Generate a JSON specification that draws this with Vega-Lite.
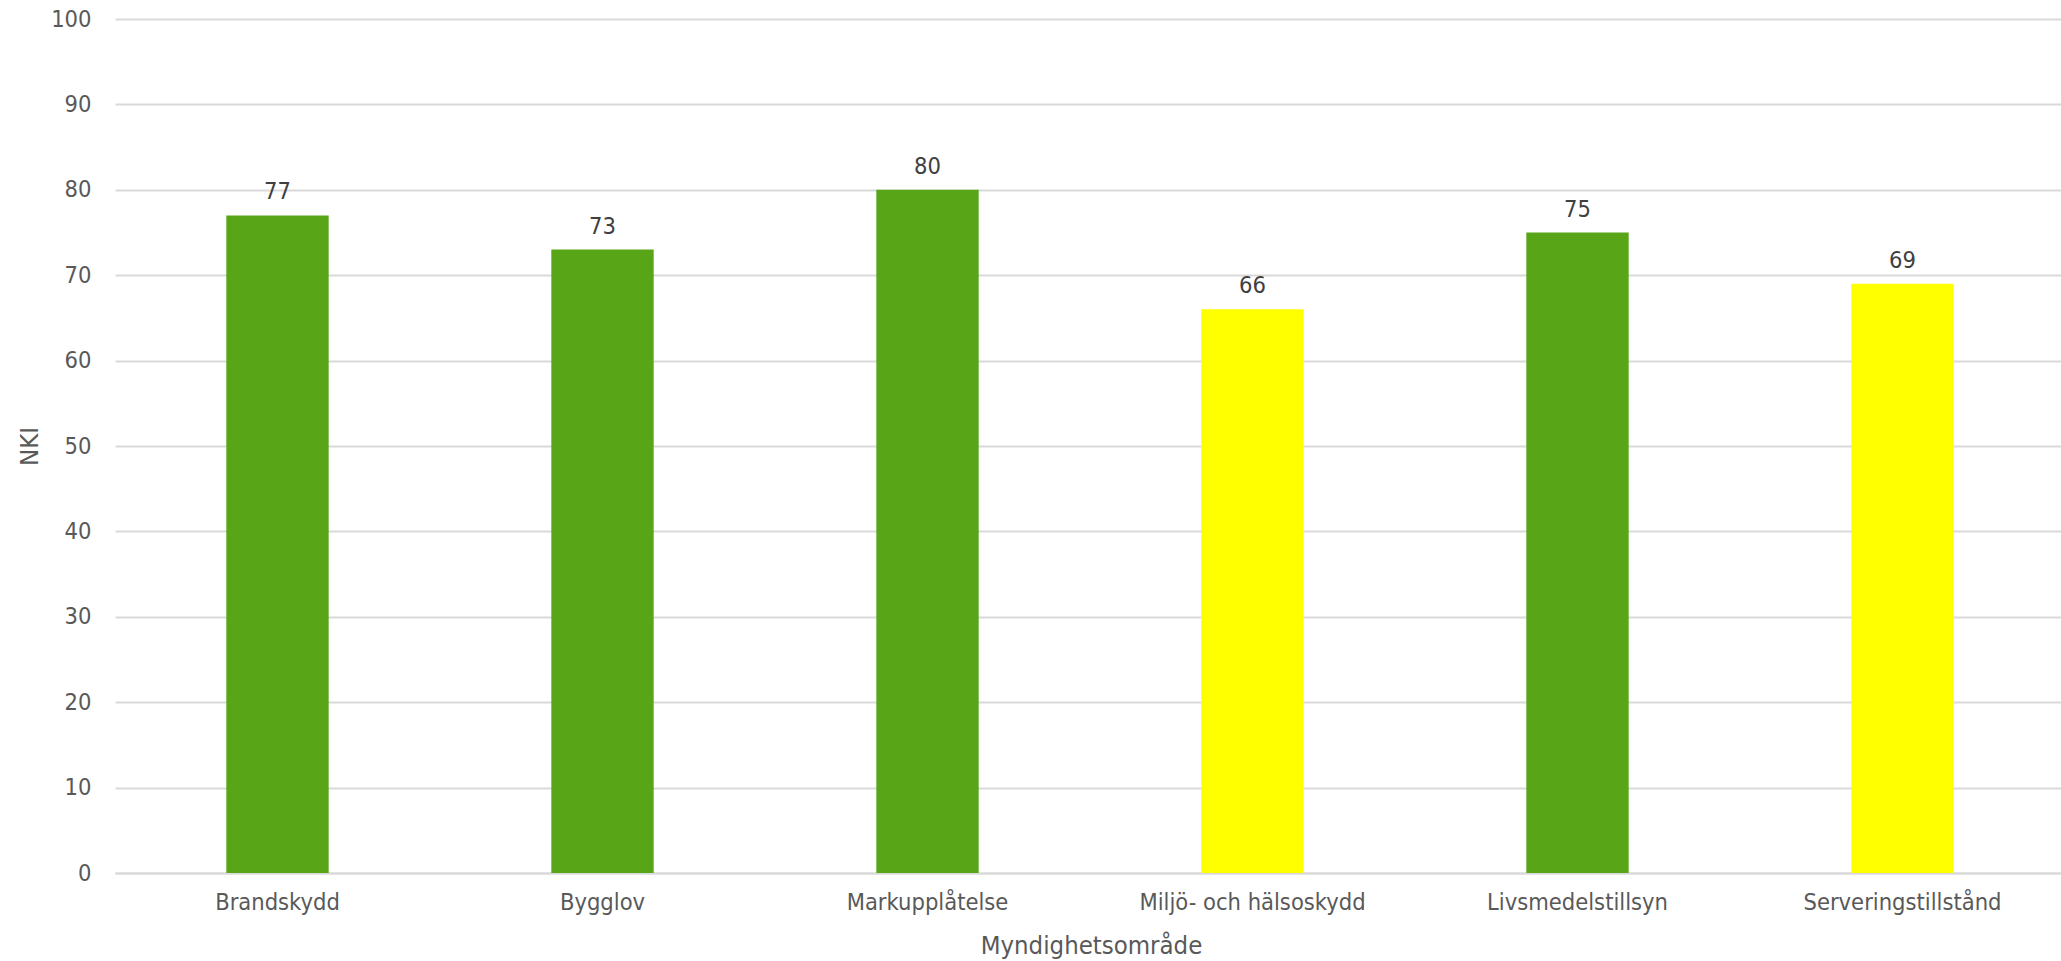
{
  "$schema": "https://vega.github.io/schema/vega-lite/v6.json",
  "autosize": {"type": "none"},
  "width": 1950,
  "height": 854,
  "padding": {"left": 115, "top": 19, "right": 0, "bottom": 88},
  "background": "white",
  "config": {
    "view": {"stroke": null},
    "font": "DejaVu Sans Condensed, DejaVu Sans, sans-serif"
  },
  "data": {
    "values": [
      {"omrade": "Brandskydd", "nki": 77, "niva": "hog"},
      {"omrade": "Bygglov", "nki": 73, "niva": "hog"},
      {"omrade": "Markupplåtelse", "nki": 80, "niva": "hog"},
      {"omrade": "Miljö- och hälsoskydd", "nki": 66, "niva": "mellan"},
      {"omrade": "Livsmedelstillsyn", "nki": 75, "niva": "hog"},
      {"omrade": "Serveringstillstånd", "nki": 69, "niva": "mellan"}
    ]
  },
  "encoding": {
    "x": {
      "field": "omrade",
      "type": "nominal",
      "sort": null,
      "title": "Myndighetsområde",
      "scale": {"paddingInner": 0.685, "paddingOuter": 0.3425},
      "axis": {
        "labelAngle": 0,
        "labelFontSize": 23.5,
        "labelLimit": 0,
        "labelColor": "#595959",
        "labelFont": "DejaVu Sans Condensed, DejaVu Sans, sans-serif",
        "labelPadding": 17,
        "labelBaseline": "top",
        "ticks": false,
        "domain": true,
        "domainColor": "#d9d9d9",
        "domainWidth": 2,
        "titleFontSize": 25.5,
        "titleFontWeight": "normal",
        "titleColor": "#595959",
        "titleFont": "DejaVu Sans Condensed, DejaVu Sans, sans-serif",
        "titleBaseline": "middle",
        "titleY": 72,
        "titleX": 976
      }
    },
    "y": {
      "field": "nki",
      "type": "quantitative",
      "title": "NKI",
      "scale": {"domain": [0, 100], "nice": false},
      "axis": {
        "values": [0, 10, 20, 30, 40, 50, 60, 70, 80, 90, 100],
        "labelFontSize": 23.5,
        "labelColor": "#595959",
        "labelFont": "DejaVu Sans Condensed, DejaVu Sans, sans-serif",
        "labelPadding": 24,
        "ticks": false,
        "domain": false,
        "grid": true,
        "gridColor": "#d9d9d9",
        "gridWidth": 2,
        "titleFontSize": 25.5,
        "titleFontWeight": "normal",
        "titleColor": "#595959",
        "titleFont": "DejaVu Sans Condensed, DejaVu Sans, sans-serif",
        "titleBaseline": "middle",
        "titleAngle": -90,
        "titleX": -86,
        "titleY": 427
      }
    }
  },
  "layer": [
    {
      "mark": {"type": "bar"},
      "encoding": {
        "color": {
          "field": "niva",
          "type": "nominal",
          "scale": {"domain": ["hog", "mellan"], "range": ["#58a618", "#ffff00"]},
          "legend": null
        }
      }
    },
    {
      "mark": {
        "type": "text",
        "baseline": "alphabetic",
        "dy": -16,
        "fontSize": 23.5,
        "color": "#404040",
        "font": "DejaVu Sans Condensed, DejaVu Sans, sans-serif"
      },
      "encoding": {"text": {"field": "nki", "type": "quantitative"}}
    }
  ]
}
